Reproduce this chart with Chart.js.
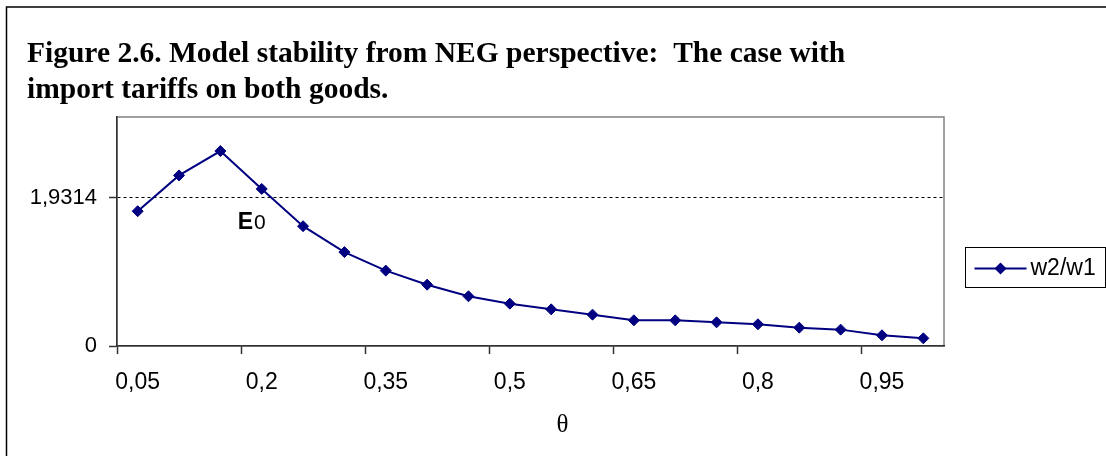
<!DOCTYPE html>
<html>
<head>
<meta charset="utf-8">
<script src="https://cdn.jsdelivr.net/npm/chart.js@4/dist/chart.umd.min.js"></script>
<style>
    html, body { margin: 0; padding: 0; background: #fff; }
    #wrap { width: 1106px; height: 456px; }
</style>
</head>
<body>
<div id="wrap"><canvas id="stabilityChart" width="1106" height="456"></canvas></div>
<script>
// theta categories along the x axis
const thetas = ['0,05', '0,1', '0,15', '0,2', '0,25', '0,3', '0,35', '0,4', '0,45', '0,5',
                '0,55', '0,6', '0,65', '0,7', '0,75', '0,8', '0,85', '0,9', '0,95', '1'];
// relative wage w2/w1 for each theta
const w2w1 = [1.754, 2.220, 2.537, 2.044, 1.559, 1.222, 0.981, 0.798, 0.647, 0.551,
              0.477, 0.408, 0.334, 0.334, 0.308, 0.283, 0.239, 0.213, 0.139, 0.100];
const yTicks = [0, 1.9314];
const yTickLabels = ['0', '1,9314'];
const xLabelStep = 3;
const yMax = 2.98;
const seriesName = 'w2/w1';
const titleLines = ['Figure 2.6. Model stability from NEG perspective:  The case with',
                    'import tariffs on both goods.'];
const axisTitle = 'θ';
const markLabel = { index: 3, value: 1.9314, main: 'E', sub: '0' };

const sansFont = "'Liberation Sans', Arial, sans-serif";
const serifFont = "'Liberation Serif', 'Times New Roman', serif";
const navy = '#000080';

const framePlugin = {
    id: 'frame',
    beforeDraw(chart) {
        const ctx = chart.ctx;
        const area = chart.chartArea;
        ctx.save();
        ctx.fillStyle = '#fff';
        ctx.fillRect(0, 0, chart.width, chart.height);
        // outer figure border (left and top)
        ctx.strokeStyle = '#000';
        ctx.lineWidth = 1.5;
        ctx.beginPath();
        ctx.moveTo(6.5, chart.height + 2);
        ctx.lineTo(6.5, 7);
        ctx.lineTo(chart.width + 2, 7);
        ctx.stroke();
        // plot area box
        ctx.strokeStyle = '#808080';
        ctx.lineWidth = 1.5;
        ctx.strokeRect(area.left, area.top, area.right - area.left, area.bottom - area.top);
        ctx.restore();
    },
    afterDraw(chart) {
        const ctx = chart.ctx;
        const x = chart.scales.x;
        const y = chart.scales.y;
        const area = chart.chartArea;
        ctx.save();
        // E0 label under the equilibrium line
        const ex = x.getPixelForValue(markLabel.index) - 24;
        const ey = y.getPixelForValue(markLabel.value) + 31;
        ctx.fillStyle = '#000';
        ctx.textBaseline = 'alphabetic';
        ctx.font = 'bold 23px ' + sansFont;
        ctx.fillText(markLabel.main, ex, ey);
        const ew = ctx.measureText(markLabel.main).width;
        ctx.font = '21px ' + sansFont;
        ctx.fillText(markLabel.sub, ex + ew + 1, ey);

        // theta axis title
        ctx.font = '25px ' + serifFont;
        ctx.textAlign = 'center';
        ctx.textBaseline = 'middle';
        ctx.fillText(axisTitle, (area.left + area.right) / 2 + 32, 425);

        // legend box
        const ds = chart.data.datasets[0];
        const bx = 965.5, by = 247.5, bw = 140, bh = 40;
        const cy = by + bh / 2 + 1;
        ctx.strokeStyle = '#000';
        ctx.lineWidth = 1;
        ctx.strokeRect(bx, by, bw, bh);
        ctx.strokeStyle = ds.borderColor;
        ctx.lineWidth = 2;
        ctx.beginPath();
        ctx.moveTo(bx + 9, cy);
        ctx.lineTo(bx + 61, cy);
        ctx.stroke();
        ctx.fillStyle = ds.pointBackgroundColor;
        ctx.beginPath();
        ctx.moveTo(bx + 35, cy - 6);
        ctx.lineTo(bx + 41, cy);
        ctx.lineTo(bx + 35, cy + 6);
        ctx.lineTo(bx + 29, cy);
        ctx.closePath();
        ctx.fill();
        ctx.fillStyle = '#000';
        ctx.font = '23px ' + sansFont;
        ctx.textAlign = 'left';
        ctx.fillText(ds.label, bx + 65, cy);
        ctx.restore();
    }
};

const ctx = document.getElementById('stabilityChart').getContext('2d');
new Chart(ctx, {
    type: 'line',
    data: {
        labels: thetas,
        datasets: [{
            label: seriesName,
            data: w2w1,
            borderColor: navy,
            backgroundColor: navy,
            pointBackgroundColor: navy,
            pointBorderColor: navy,
            borderWidth: 2,
            pointStyle: 'rectRot',
            pointRadius: 5.5,
            pointBorderWidth: 1,
            tension: 0,
            fill: false
        }]
    },
    options: {
        responsive: false,
        animation: false,
        events: [],
        layout: { padding: { left: 27, right: 162, top: 0, bottom: 0 } },
        plugins: {
            legend: { display: false },
            tooltip: { enabled: false },
            title: {
                display: true,
                text: titleLines,
                align: 'start',
                color: '#000',
                font: { family: serifFont, size: 29.5, weight: 'bold', lineHeight: 36 / 29.5 },
                padding: { top: 36, bottom: 9 }
            }
        },
        scales: {
            x: {
                type: 'category',
                offset: true,
                grid: {
                    offset: true,
                    drawOnChartArea: false,
                    drawTicks: true,
                    tickLength: 8,
                    tickWidth: 1.5,
                    tickColor: (c) => (c.index % xLabelStep === 0 ? '#333' : 'rgba(0,0,0,0)'),
                    color: 'rgba(0,0,0,0)'
                },
                border: { display: true, color: '#333', width: 1.5 },
                ticks: {
                    autoSkip: false,
                    maxRotation: 0,
                    minRotation: 0,
                    padding: 15,
                    color: '#000',
                    font: { family: sansFont, size: 23 },
                    callback: (v, i) => (i % xLabelStep === 0 ? thetas[i] : '')
                },
                afterFit: (scale) => { scale.height = 110; }
            },
            y: {
                min: 0,
                max: yMax,
                afterBuildTicks: (scale) => { scale.ticks = yTicks.map(v => ({ value: v })); },
                grid: {
                    drawTicks: true,
                    tickLength: 8,
                    tickWidth: 1.5,
                    tickColor: '#333',
                    lineWidth: 1,
                    color: (c) => (c.tick && c.tick.value > 0 ? '#000' : 'rgba(0,0,0,0)')
                },
                border: { display: true, color: '#333', width: 1.5, dash: [3, 3] },
                ticks: {
                    padding: 12,
                    color: '#000',
                    font: { family: sansFont, size: 22 },
                    callback: (v, i) => yTickLabels[i]
                },
                afterFit: (scale) => { scale.width = 90; }
            }
        }
    },
    plugins: [framePlugin]
});
</script>
</body>
</html>
